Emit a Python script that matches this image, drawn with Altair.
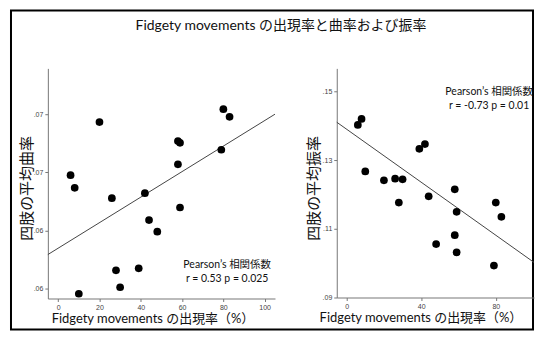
import altair as alt
import pandas as pd

# ---- data ----
fm_rate = [6, 8, 10, 20, 26, 28, 30, 39, 42, 44, 48, 58, 58, 59, 59, 79, 80, 83]
curvature = [0.06975, 0.06866, 0.05955, 0.07432, 0.06777, 0.06157, 0.06011, 0.06174,
             0.06820, 0.06589, 0.06489, 0.07269, 0.07069, 0.07254, 0.06697, 0.07194,
             0.07543, 0.07477]
amp_x = [6, 8, 10, 20, 26, 28, 30, 39, 42, 44, 48, 58, 58, 59, 59, 79, 80, 83]
amplitude = [0.14023, 0.14197, 0.12670, 0.12409, 0.12458, 0.11762, 0.12438, 0.13328,
             0.13464, 0.11945, 0.10554, 0.12148, 0.10814, 0.11493, 0.10313, 0.09928,
             0.11762, 0.11348]

# fit lines as drawn in the reference (end points)
left_fit_x = [-5, 105]
left_fit_y = [0.06292, 0.07500]
right_fit_x = [-5.3, 100.5]
right_fit_y = [0.14101, 0.10022]

x_ticks = [0, 20, 40, 60, 80, 100]
left_y_ticks = [0.060, 0.065, 0.070, 0.075]
left_y_labels = [".06", ".06", ".07", ".07"]
right_y_ticks = [0.09, 0.10, 0.11, 0.12, 0.13, 0.14, 0.15]
right_y_labels = [".09", ".10", ".11", ".12", ".13", ".14", ".15"]

title_text = "Fidgety movements の出現率と曲率および振率"
x_title = "Fidgety movements の出現率（%）"
left_y_title = "四肢の平均曲率"
right_y_title = "四肢の平均振率"
left_note = ["Pearson’s 相関係数", "r = 0.53   p = 0.025"]
right_note = ["Pearson’s 相関係数", "r = -0.73   p = 0.01"]

FONT = "Lato, Noto Sans CJK JP, sans-serif"
JP = "Noto Sans CJK JP"

left_df = pd.DataFrame({"x": fm_rate, "y": curvature})
right_df = pd.DataFrame({"x": amp_x, "y": amplitude})
left_fit = pd.DataFrame({"x": left_fit_x, "y": left_fit_y})
right_fit = pd.DataFrame({"x": right_fit_x, "y": right_fit_y})
one = pd.DataFrame({"a": [0]})


def label_expr(vals, labels):
    vs = ",".join(str(round(v * 1000)) for v in vals)
    ls = ",".join("'" + l + "'" for l in labels)
    return f"[{ls}][indexof([{vs}], round(datum.value*1000))]"


def axis_common(title_font, **kw):
    return alt.Axis(
        grid=False, domainColor="#777", tickColor="#777", tickSize=3,
        labelFontSize=7, labelColor="#444", labelFont="Liberation Sans",
        labelOverlap=False, labelPadding=2, labelFlush=False,
        titleFont=title_font, titleColor="#111", **kw)


def panel(df, fit, xdom, ydom, yticks, ylabels, ytitle, ytitle_x, xtitle_x, note, note_x, note_y):
    xs = alt.Scale(domain=xdom, nice=False, zero=False)
    ys = alt.Scale(domain=ydom, nice=False, zero=False)
    xax = axis_common(FONT, values=x_ticks, title=x_title, titleFontSize=13,
                      titleX=xtitle_x, titleY=20, titleBaseline="middle",
                      titleFontWeight="normal")
    yax = axis_common(JP, values=yticks, labelExpr=label_expr(yticks, ylabels),
                      title=ytitle, titleFontSize=15,
                      titleX=ytitle_x, titleY=120, titleBaseline="middle",
                      titleFontWeight="normal")
    pts = alt.Chart(df).mark_circle(size=60, color="black", opacity=1).encode(
        x=alt.X("x:Q", scale=xs, axis=xax),
        y=alt.Y("y:Q", scale=ys, axis=yax),
    )
    line = alt.Chart(fit).mark_line(color="#444", strokeWidth=1).encode(
        x=alt.X("x:Q", scale=xs), y=alt.Y("y:Q", scale=ys))
    t1 = alt.Chart(one).mark_text(font=FONT, fontSize=10.5, color="#111").encode(
        x=alt.value(note_x), y=alt.value(note_y), text=alt.value(note[0]))
    t2 = alt.Chart(one).mark_text(font=FONT, fontSize=10.5, color="#111").encode(
        x=alt.value(note_x), y=alt.value(note_y + 14), text=alt.value(note[1]))
    return [line, pts, t1, t2]


left_layers = panel(left_df, left_fit, [-5, 105], [0.05914, 0.07894], left_y_ticks, left_y_labels,
                    left_y_title, -21, 105, left_note, 180, 197)
right_layers = panel(right_df, right_fit, [-5.3, 100.5], [0.09, 0.15667], right_y_ticks, right_y_labels,
                     right_y_title, -23, 84, right_note, 153, 24)

frame = alt.Chart(one).mark_rect(fill=None, stroke="black", strokeWidth=2).encode(
    x=alt.value(-37), x2=alt.value(487), y=alt.value(-58), y2=alt.value(262))
title = alt.Chart(one).mark_text(font=FONT, fontSize=14, color="#111").encode(
    x=alt.value(234), y=alt.value(-43), text=alt.value(title_text))

left = alt.layer(frame, title, *left_layers).properties(width=228, height=231)
right = alt.layer(*right_layers).properties(width=198, height=230)

chart = alt.hconcat(left, right, spacing=62, bounds="flush").properties(
    padding={"left": 2, "top": 1, "right": 0, "bottom": 0},
    background="white",
).configure_view(stroke=None).configure_axis(labelOverlap=False)

chart.save("out.html", embed_options={"renderer": "svg", "actions": False})
